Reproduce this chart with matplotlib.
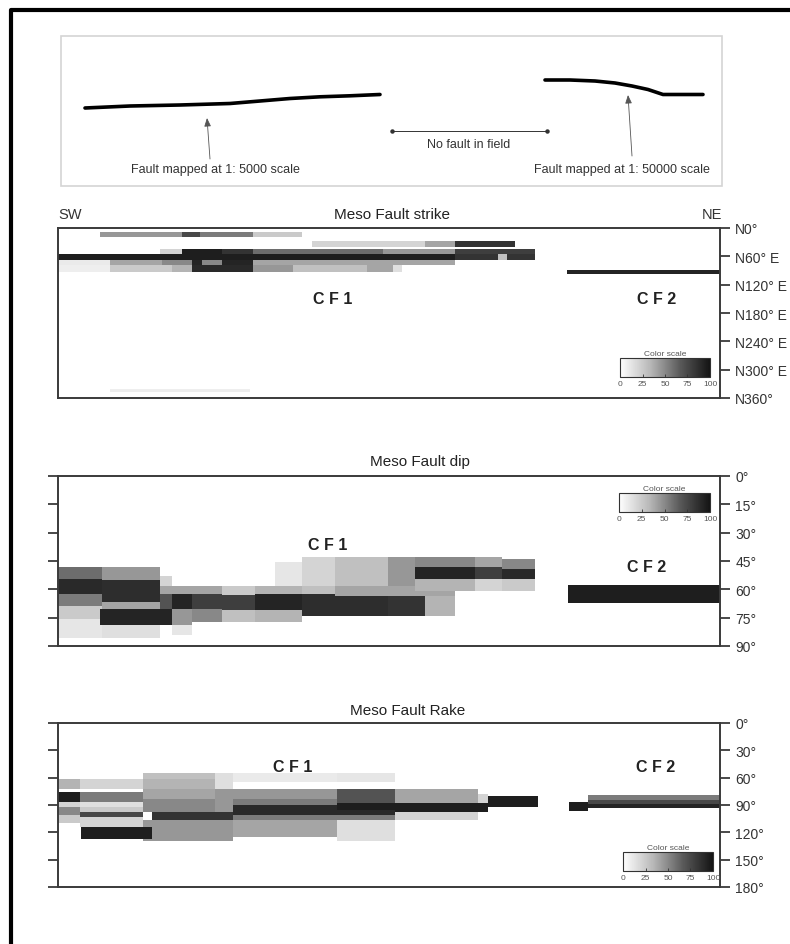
import matplotlib
matplotlib.use("Agg")
import matplotlib.pyplot as plt
import numpy as np
from matplotlib.colors import Normalize, LinearSegmentedColormap
from matplotlib.colorbar import ColorbarBase

plt.rcParams['font.family'] = ['Liberation Sans', 'DejaVu Sans']

W, H = 790, 945

# ---- data -------------------------------------------------------------
# each cell: distance start, distance end, angle start, angle end, share (%)
strike_x0 = [42, 124, 142, 195, 254, 367, 397,
             102, 124, 164, 195, 325, 397,
             0, 397, 440, 449,
             0, 52, 104, 134, 144, 195,
             0, 52, 114, 134, 195, 235, 309, 335,
             52, 509]
strike_x1 = [124, 142, 195, 244, 367, 397, 457,
             124, 164, 195, 325, 397, 477,
             397, 440, 449, 477,
             52, 104, 134, 195, 164, 397,
             52, 114, 134, 195, 235, 309, 335, 344,
             192, 662]
strike_a0 = [8, 8, 8, 8, 28, 28, 28,
             44, 44, 44, 44, 44, 44,
             56, 56, 56, 56,
             68, 68, 68, 68, 68, 68,
             78, 78, 78, 78, 78, 78, 78, 78,
             340, 88]
strike_a1 = [18, 18, 18, 18, 40, 40, 40,
             56, 56, 56, 56, 56, 56,
             68, 68, 68, 68,
             78, 78, 78, 78, 78, 78,
             93, 93, 93, 93, 93, 93, 93, 93,
             348, 97]
strike_pct = [45, 75, 55, 25, 20, 40, 85,
              20, 95, 85, 60, 45, 80,
              95, 85, 30, 85,
              10, 40, 50, 92, 50, 40,
              8, 25, 35, 90, 45, 30, 40, 15,
              8, 92]

dip_x0 = [0, 0, 0, 0, 0,
          44, 44, 44, 44,
          42,
          102, 102, 102,
          114, 114, 114, 114,
          134, 134, 134,
          164, 164, 164,
          197, 197, 197,
          217,
          244, 244, 244,
          277, 277, 277,
          330, 330, 330,
          367, 367,
          357, 357, 357,
          417, 417, 417,
          444, 444, 444,
          510]
dip_x1 = [44, 44, 44, 44, 44,
          102, 102, 102, 102,
          114,
          114, 114, 114,
          134, 134, 134, 134,
          164, 164, 164,
          197, 197, 197,
          244, 244, 244,
          244,
          277, 277, 277,
          330, 330, 330,
          367, 367, 367,
          397, 397,
          417, 417, 417,
          444, 444, 444,
          477, 477, 477,
          662]
dip_a0 = [48, 54.5, 62.5, 69, 75.5,
          48, 55, 66.8, 79,
          70.4,
          53, 58, 62.4,
          58, 62.4, 70.4, 79,
          58, 62.4, 70.4,
          58, 63, 71,
          58, 62.4, 71,
          45.7,
          43, 58, 62.4,
          43, 58, 63.5,
          43, 58, 63.5,
          43, 63.5,
          43, 48.3, 54.5,
          43, 48.3, 54.5,
          44, 49, 54.5,
          57.7]
dip_a1 = [54.5, 62.5, 69, 75.5, 86,
          55, 66.8, 70.4, 86,
          79,
          58, 62.4, 70.4,
          62.4, 70.4, 79, 84,
          62.4, 70.4, 77.5,
          63, 71, 77.5,
          62.4, 71, 77.5,
          58,
          58, 62.4, 73.9,
          58, 63.5, 73.9,
          58, 63.5, 73.9,
          63.5, 73.9,
          48.3, 54.5, 61,
          48.3, 54.5, 61,
          49, 54.5, 61,
          67]
dip_pct = [60, 90, 55, 25, 12,
           45, 88, 40, 15,
           92,
           20, 40, 70,
           40, 92, 45, 12,
           40, 80, 50,
           25, 80, 30,
           35, 92, 35,
           12,
           20, 30, 88,
           30, 40, 88,
           45, 40, 85,
           40, 35,
           50, 92, 35,
           40, 80, 20,
           50, 90, 25,
           95]

rake_x0 = [0, 0, 0, 0, 0,
           22, 22, 22, 22, 22, 22,
           85, 85, 85, 85, 85,
           23, 94,
           157, 157, 157,
           175, 175, 175, 175, 175, 175,
           279, 279, 279, 279, 279,
           337, 337, 337, 420, 430,
           511, 530, 530, 530]
rake_x1 = [22, 22, 22, 22, 22,
           85, 85, 85, 85, 85, 85,
           157, 157, 157, 157, 157,
           94, 175,
           175, 175, 175,
           279, 279, 279, 279, 279, 349,
           337, 337, 337, 337, 337,
           420, 430, 420, 430, 480,
           530, 662, 662, 662]
rake_a0 = [61, 75.5, 86.5, 92, 101,
           61, 75.5, 86.5, 92, 97.5, 103,
           55, 61, 72, 83, 106,
           114, 97.5,
           55, 72, 106,
           55, 72, 83, 101, 107, 90,
           55, 72, 88, 101, 107,
           72, 88, 98, 78, 80,
           87, 79, 84, 89]
rake_a1 = [72, 86.5, 92, 101, 110,
           72, 86.5, 92, 97.5, 103, 114,
           61, 72, 83, 97.5, 129,
           127, 106,
           72, 97.5, 129,
           65, 83, 90, 107, 125, 101,
           65, 88, 95, 107, 129,
           88, 98, 107, 88, 92,
           97, 84, 89, 93]
rake_pct = [35, 95, 20, 50, 25,
            20, 55, 15, 25, 75, 20,
            30, 35, 40, 50, 45,
            95, 85,
            15, 45, 45,
            10, 45, 55, 55, 40, 90,
            12, 70, 95, 55, 15,
            40, 95, 20, 20, 95,
            95, 55, 75, 92]

strike_ticks = [0, 60, 120, 180, 240, 300, 360]
strike_labels = ['N0°', 'N60° E', 'N120° E', 'N180° E', 'N240° E', 'N300° E', 'N360°']
dip_ticks = [0, 15, 30, 45, 60, 75, 90]
rake_ticks = [0, 30, 60, 90, 120, 150, 180]
scale_ticks = [0, 25, 50, 75, 100]

# fault traces on the map strip (figure pixels)
trace1_x = [85, 130, 180, 230, 260, 290, 320, 350, 380]
trace1_y = [109, 107, 106, 104.5, 102, 99.5, 97.8, 96.8, 95.5]
trace2_x = [545, 570, 595, 615, 632, 648, 657, 663, 703]
trace2_y = [81, 81, 82, 84, 87, 90.5, 93.5, 95.5, 95.5]

cmap = LinearSegmentedColormap.from_list('share', ['#ffffff', '#b8b8b8', '#5a5a5a', '#141414'])
norm = Normalize(0, 100)


def fig_box(px0, py0, px1, py1):
    return [px0 / W, 1 - py1 / H, (px1 - px0) / W, (py1 - py0) / H]


def draw_cells(ax, x0, x1, a0, a1, pct):
    for s, e, lo, hi, p in zip(x0, x1, a0, a1, pct):
        ax.barh((lo + hi) / 2, e - s, left=s, height=hi - lo,
                color=cmap(norm(p)), edgecolor='none', linewidth=0)


def style_panel(ax, top, ticks, labels, left_ticks):
    ax.set_xlim(0, 662)
    ax.set_ylim(top, 0)
    ax.set_xticks([])
    for sp in ax.spines.values():
        sp.set_color('#3a3a3a')
        sp.set_linewidth(1.4)
    ax.yaxis.set_ticks_position('both' if left_ticks else 'right')
    ax.set_yticks(ticks)
    ax.set_yticklabels(labels)
    ax.tick_params(axis='y', direction='out', length=7, width=1.3, color='#3a3a3a',
                   labelsize=10, labelcolor='#333333', pad=4,
                   labelleft=False, labelright=True)


def color_scale(box):
    cax = fig.add_axes(fig_box(*box))
    cb = ColorbarBase(cax, cmap=cmap, norm=norm, orientation='horizontal', ticks=scale_ticks)
    cb.outline.set_linewidth(0.8)
    cb.outline.set_edgecolor('#333333')
    cax.tick_params(length=2.5, width=0.6, labelsize=6, labelcolor='#555555',
                    color='#333333', pad=2, direction='in')
    cax.set_title('Color scale', fontsize=6, color='#555555', pad=2)


fig = plt.figure(figsize=(W / 100, H / 100), dpi=100)

# background layer in pixel coordinates
bg = fig.add_axes([0, 0, 1, 1])
bg.set_xlim(0, W)
bg.set_ylim(H, 0)
bg.axis('off')
bg.plot([10.5, 10.5, W], [H, 10.5, 10.5], color='black', lw=3, solid_capstyle='butt')
bg.add_patch(plt.Rectangle((61, 37), 661, 150, fill=False, edgecolor='#d4d4d4', lw=1.2))
bg.plot(trace1_x, trace1_y, color='black', lw=2.6, solid_capstyle='round')
bg.plot(trace2_x, trace2_y, color='black', lw=2.6, solid_capstyle='round')
bg.annotate('', xy=(207, 119), xytext=(210, 160),
            arrowprops=dict(arrowstyle='-|>,head_length=0.5,head_width=0.2',
                            color='#555555', lw=0.6, shrinkA=0, shrinkB=0))
bg.annotate('', xy=(628, 96), xytext=(632, 157),
            arrowprops=dict(arrowstyle='-|>,head_length=0.5,head_width=0.2',
                            color='#555555', lw=0.6, shrinkA=0, shrinkB=0))
bg.plot([392, 547], [132, 132], color='#333333', lw=0.7, marker='o', markersize=2.2)
bg.text(469, 145, 'No fault in field', fontsize=9, color='#333333', ha='center', va='center')
bg.text(215, 170, 'Fault mapped at 1: 5000 scale', fontsize=9, color='#333333',
        ha='center', va='center')
bg.text(622, 170, 'Fault mapped at 1: 50000 scale', fontsize=9, color='#333333',
        ha='center', va='center')
bg.text(58, 215, 'SW', fontsize=10.5, color='#333333', ha='left', va='center')
bg.text(722, 215, 'NE', fontsize=10.5, color='#333333', ha='right', va='center')
bg.text(392, 215, 'Meso Fault strike', fontsize=11, color='#222222', ha='center', va='center')
bg.text(420, 462, 'Meso Fault dip', fontsize=11, color='#222222', ha='center', va='center')
bg.text(408, 711, 'Meso Fault Rake', fontsize=11, color='#222222', ha='center', va='center')

# strike
ax1 = fig.add_axes(fig_box(58, 229, 720, 399))
draw_cells(ax1, strike_x0, strike_x1, strike_a0, strike_a1, strike_pct)
style_panel(ax1, 360, strike_ticks, strike_labels, False)
ax1.text(275, 150, 'C F 1', fontsize=11.5, fontweight='bold', color='#222222', ha='center', va='center')
ax1.text(599, 150, 'C F 2', fontsize=11.5, fontweight='bold', color='#222222', ha='center', va='center')

# dip
ax2 = fig.add_axes(fig_box(58, 477, 720, 647))
draw_cells(ax2, dip_x0, dip_x1, dip_a0, dip_a1, dip_pct)
style_panel(ax2, 90, dip_ticks, [f'{t}°' for t in dip_ticks], True)
ax2.text(270, 36, 'C F 1', fontsize=11.5, fontweight='bold', color='#222222', ha='center', va='center')
ax2.text(589, 48, 'C F 2', fontsize=11.5, fontweight='bold', color='#222222', ha='center', va='center')

# rake
ax3 = fig.add_axes(fig_box(58, 724, 720, 888))
draw_cells(ax3, rake_x0, rake_x1, rake_a0, rake_a1, rake_pct)
style_panel(ax3, 180, rake_ticks, [f'{t}°' for t in rake_ticks], True)
ax3.text(235, 48, 'C F 1', fontsize=11.5, fontweight='bold', color='#222222', ha='center', va='center')
ax3.text(598, 48, 'C F 2', fontsize=11.5, fontweight='bold', color='#222222', ha='center', va='center')

color_scale((620, 359, 710, 378))
color_scale((619, 494, 710, 513))
color_scale((623, 853, 713, 872))

fig.savefig('out.png', dpi=100)
